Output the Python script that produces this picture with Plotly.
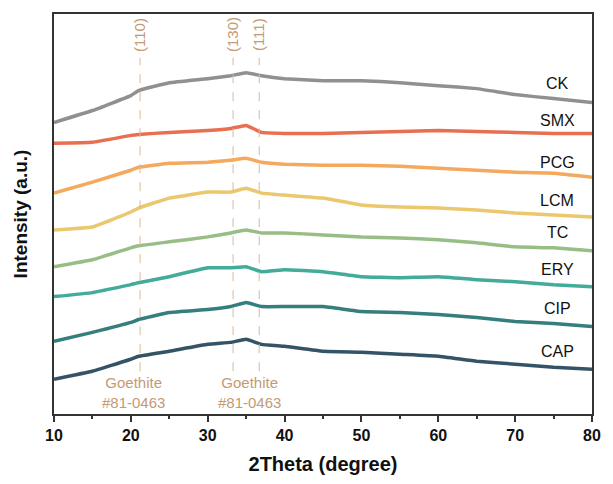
import plotly.graph_objects as go

two_theta = [10, 15, 20, 21, 25, 30, 33, 35, 37, 40, 45, 50, 55, 60, 65, 70, 75, 80]

ck  = [293, 305, 320, 325, 333, 337, 340, 343, 340, 337, 335, 335, 333, 330, 327, 321, 317, 313]
smx = [272, 273, 280, 281, 283, 285, 287, 290, 283, 282, 282, 283, 284, 285, 284, 283, 282, 282]
pcg = [222, 233, 245, 248, 252, 253, 255, 257, 253, 251, 250, 250, 249, 247, 245, 243, 242, 238]
lcm = [185, 188, 203, 207, 217, 223, 223, 227, 222, 220, 217, 210, 208, 207, 205, 202, 200, 198]
tc  = [148, 155, 167, 169, 173, 178, 182, 185, 182, 182, 180, 178, 177, 175, 172, 168, 167, 164]
ery = [118, 122, 130, 132, 138, 147, 147, 148, 143, 145, 143, 138, 137, 138, 135, 133, 130, 128]
cip = [73, 82, 92, 95, 102, 105, 108, 112, 108, 108, 108, 103, 102, 100, 97, 93, 91, 88]
cap = [35, 43, 55, 58, 63, 70, 72, 75, 70, 68, 63, 62, 60, 58, 53, 50, 47, 45]

names = ["CK", "SMX", "PCG", "LCM", "TC", "ERY", "CIP", "CAP"]
label_y = [332, 295, 253, 215, 182, 145, 106, 63]
colors = ["#858585", "#e6603e", "#f3a04c", "#e9c25e", "#8db77a", "#2fa28e", "#1f7170", "#1f4256"]
series = [ck, smx, pcg, lcm, tc, ery, cip, cap]

peak_pos = [21.2, 33.3, 36.7]
peak_lbl = ["(110)", "(130)", "(111)"]
ref_x = [20.4, 35.4]
ref_txt = ["Goethite<br>#81-0463", "Goethite<br>#81-0463"]

tan = "#c49a74"
fnt = "Liberation Sans, Arial"

fig = go.Figure()
for name, ys, c in zip(names, series, colors):
    fig.add_trace(go.Scatter(x=two_theta, y=ys, mode="lines", name=name,
                             line=dict(color=c, width=3.5, shape="spline", smoothing=0.25),
                             opacity=0.9, showlegend=False))

for name, ly in zip(names, label_y):
    fig.add_annotation(x=75.5, y=ly, text=name, showarrow=False,
                       font=dict(family=fnt, size=16, color="#111111"))

for px, pl in zip(peak_pos, peak_lbl):
    fig.add_shape(type="line", x0=px, x1=px, y0=43, y1=358,
                  line=dict(color="#d8b89c", width=1, dash="dash"))
    fig.add_annotation(x=px, y=381, text=pl, showarrow=False, textangle=-90,
                       font=dict(family=fnt, size=15, color=tan))

for rx, rt in zip(ref_x, ref_txt):
    fig.add_annotation(x=rx, y=22, text=rt, showarrow=False,
                       font=dict(family=fnt, size=15, color=tan))

fig.update_layout(
    width=613, height=484,
    margin=dict(l=54, r=12, t=13, b=69),
    plot_bgcolor="white", paper_bgcolor="white",
    font=dict(family=fnt, color="#111111"),
    xaxis=dict(range=[10, 80], tickvals=[10, 20, 30, 40, 50, 60, 70, 80],
               ticks="outside", ticklen=6, tickwidth=1.5, tickcolor="#333333",
               minor=dict(dtick=5, ticks="outside", ticklen=3, tickwidth=1.5, tickcolor="#333333"),
               showline=True, linecolor="#333333", linewidth=1.5, mirror=True,
               showgrid=False, zeroline=False,
               tickfont=dict(size=16, family=fnt, weight="bold"),
               title=dict(text="<b>2Theta (degree)</b>", font=dict(size=20), standoff=14)),
    yaxis=dict(range=[0, 402], showticklabels=False, ticks="",
               showline=True, linecolor="#333333", linewidth=1.5, mirror=True,
               showgrid=False, zeroline=False,
               title=dict(text="<b>Intensity (a.u.)</b>", font=dict(size=19), standoff=20)),
)

fig.write_html("out.html")
